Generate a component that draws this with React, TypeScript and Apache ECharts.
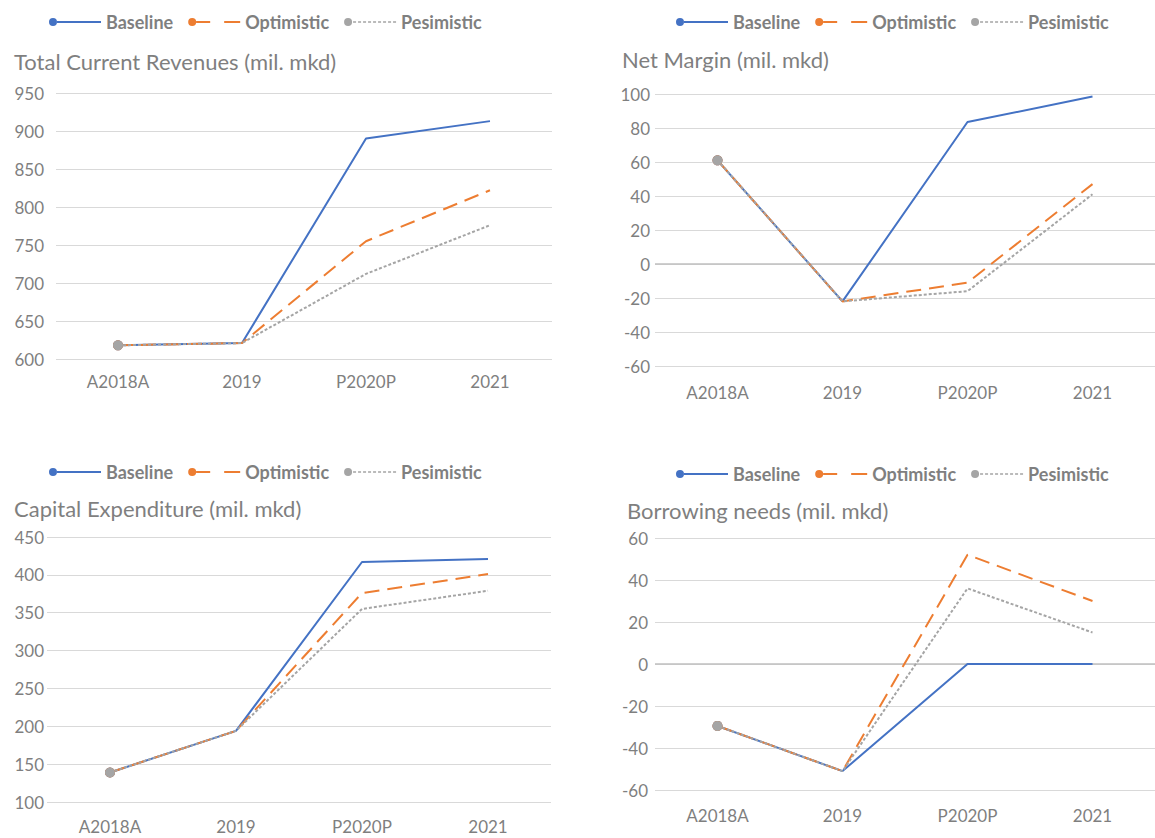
import React, { useEffect, useRef } from "react";
import * as echarts from "echarts";

// ---------- data ----------
const categories = ["A2018A", "2019", "P2020P", "2021"];
const seriesNames = ["Baseline", "Optimistic", "Pesimistic"];

const panelTitles = [
  "Total Current Revenues (mil. mkd)",
  "Net Margin (mil. mkd)",
  "Capital Expenditure (mil. mkd)",
  "Borrowing needs (mil. mkd)",
];

const revenuesBaseline = [618, 621, 890, 913];
const revenuesOptimistic = [618, 621, 755, 822];
const revenuesPesimistic = [618, 621, 712, 776];

const marginBaseline = [61, -22, 83.5, 98.5];
const marginOptimistic = [61, -22, -11, 47];
const marginPesimistic = [61, -22, -16, 41];

const capexBaseline = [139, 194, 417, 421];
const capexOptimistic = [139, 194, 376, 401];
const capexPesimistic = [139, 194, 355, 379];

const borrowingBaseline = [-29.5, -51, 0, 0];
const borrowingOptimistic = [-29.5, -51, 52, 30];
const borrowingPesimistic = [-29.5, -51, 36, 15];

const panelData = [
  [revenuesBaseline, revenuesOptimistic, revenuesPesimistic],
  [marginBaseline, marginOptimistic, marginPesimistic],
  [capexBaseline, capexOptimistic, capexPesimistic],
  [borrowingBaseline, borrowingOptimistic, borrowingPesimistic],
];

const yMins = [600, -60, 100, -60];
const yMaxs = [950, 100, 450, 60];
const yIntervals = [50, 20, 50, 20];
const zeroLinePanels = [false, true, false, true];

// ---------- layout & style ----------
const FONT = "Lato, 'Noto Sans', sans-serif";
const TEXT_COLOR = "#7f7f7f";
const GRID_COLOR = "#d9d9d9";
const COLORS = ["#4472C4", "#ED7D31", "#A5A5A5"];
const LINE_TYPES: any[] = ["solid", [15, 8], [3, 2]];
const LINE_WIDTHS = [2, 2, 2];

const layout = [
  { grid: { left: 56, top: 93, width: 496, height: 266 }, title: { left: 14, top: 50 }, legend: { left: 49, top: 13 }, yMargin: 12, xMargin: 14 },
  { grid: { left: 655, top: 94, width: 508, height: 272 }, title: { left: 622, top: 48 }, legend: { left: 676, top: 13 }, yMargin: 5, xMargin: 18 },
  { grid: { left: 47, top: 537, width: 504, height: 265 }, title: { left: 14, top: 497 }, legend: { left: 49, top: 463 }, yMargin: 3, xMargin: 16 },
  { grid: { left: 655, top: 538, width: 508, height: 252 }, title: { left: 627, top: 499 }, legend: { left: 676, top: 465 }, yMargin: 7, xMargin: 17 },
];

// legend icons: marker circle at the left end followed by the line pattern
const legendIcons = [
  "path://M0,4a4,4 0 1,0 8,0a4,4 0 1,0 -8,0z M8,3h44v2h-44z",
  "path://M0,4a4,4 0 1,0 8,0a4,4 0 1,0 -8,0z M8,3h14v2h-14z M36,3h16v2h-16z",
  "path://M0,4a4,4 0 1,0 8,0a4,4 0 1,0 -8,0z M9,3.2h3v1.6h-3z M14,3.2h3v1.6h-3z M19,3.2h3v1.6h-3z M24,3.2h3v1.6h-3z M29,3.2h3v1.6h-3z M34,3.2h3v1.6h-3z M39,3.2h3v1.6h-3z M44,3.2h3v1.6h-3z M49,3.2h3v1.6h-3z",
];

function buildOption() {
  const grids: any[] = [];
  const xAxes: any[] = [];
  const yAxes: any[] = [];
  const titles: any[] = [];
  const legends: any[] = [];
  const series: any[] = [];

  panelTitles.forEach((t, i) => {
    const L = layout[i];
    grids.push({ ...L.grid, containLabel: false });
    titles.push({
      text: t,
      left: L.title.left,
      top: L.title.top,
      padding: 0,
      textStyle: { fontFamily: FONT, fontSize: 22, fontWeight: "normal", color: TEXT_COLOR },
    });
    legends.push({
      left: L.legend.left,
      top: L.legend.top,
      padding: 0,
      itemGap: 15,
      itemWidth: 52,
      itemHeight: 8,
      selectedMode: false,
      itemStyle: { borderWidth: 0 },
      textStyle: { fontFamily: FONT, fontSize: 18, fontWeight: "bold", color: TEXT_COLOR },
      data: seriesNames.map((n, k) => ({ name: n, icon: legendIcons[k] })),
    });
    xAxes.push({
      type: "category",
      gridIndex: i,
      data: categories,
      boundaryGap: true,
      axisLine: { show: false },
      axisTick: { show: false },
      splitLine: { show: false },
      axisLabel: { color: TEXT_COLOR, fontFamily: FONT, fontSize: 17, margin: L.xMargin },
    });
    yAxes.push({
      type: "value",
      gridIndex: i,
      min: yMins[i],
      max: yMaxs[i],
      interval: yIntervals[i],
      axisLine: { show: false },
      axisTick: { show: false },
      splitLine: { show: true, lineStyle: { color: GRID_COLOR, width: 1 } },
      axisLabel: { color: TEXT_COLOR, fontFamily: FONT, fontSize: 17, margin: L.yMargin },
    });
    panelData[i].forEach((vals, k) => {
      const s: any = {
        type: "line",
        name: seriesNames[k],
        xAxisIndex: i,
        yAxisIndex: i,
        data: vals,
        color: COLORS[k],
        symbol: "circle",
        showSymbol: true,
        showAllSymbol: true,
        symbolSize: (_v: any, p: any) => (p.dataIndex === 0 ? 10 : 0),
        itemStyle: { color: COLORS[k], borderWidth: 0 },
        lineStyle: { color: COLORS[k], width: LINE_WIDTHS[k], type: LINE_TYPES[k] },
        emphasis: { disabled: true },
        z: 2 + k,
      };
      if (k === 0 && zeroLinePanels[i]) {
        s.markLine = {
          silent: true,
          symbol: "none",
          label: { show: false },
          lineStyle: { color: "#bfbfbf", width: 1.5, type: "solid" },
          data: [{ yAxis: 0 }],
          z: 1,
        };
      }
      series.push(s);
    });
  });

  return {
    animation: false,
    backgroundColor: "#ffffff",
    textStyle: { fontFamily: FONT },
    title: titles,
    legend: legends,
    grid: grids,
    xAxis: xAxes,
    yAxis: yAxes,
    series,
  };
}

export default function App() {
  const ref = useRef<HTMLDivElement>(null);
  useEffect(() => {
    if (!ref.current) return;
    const chart = echarts.init(ref.current, undefined, { renderer: "svg" });
    chart.setOption(buildOption() as any);
    return () => chart.dispose();
  }, []);
  return (
    <div
      ref={ref}
      style={{ position: "fixed", left: 0, top: 0, width: 1155, height: 838, background: "#fff" }}
    />
  );
}
